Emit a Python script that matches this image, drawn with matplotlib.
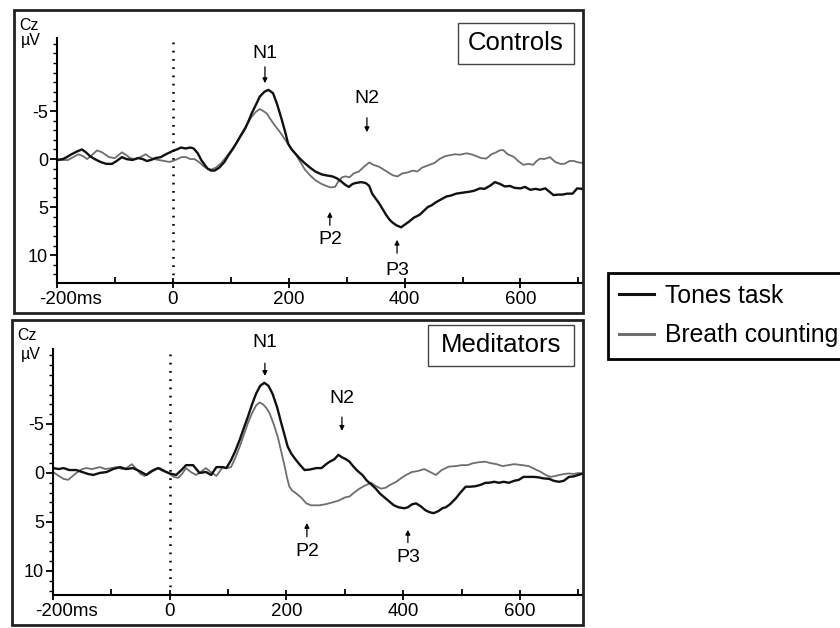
import matplotlib
matplotlib.use("Agg")
import matplotlib.pyplot as plt
from matplotlib.lines import Line2D
from matplotlib.patches import Rectangle
from matplotlib.transforms import ScaledTranslation

plt.rcParams['font.family'] = ['Liberation Sans', 'DejaVu Sans']

# Controls, tones task (black)
ctl_tones_t = [-200, -190, -183, -175, -165, -157, -150, -143, -135, -125, -115, -105, -97, -88, -80,
               -70, -60, -52, -45, -38, -30, -21, -12, -5, 0, 7, 14, 22, 30, 36, 43, 49, 55, 60, 66,
               72, 80, 89, 96, 104, 111, 118, 125, 131, 136, 143, 150, 158, 165, 173, 180, 188, 194,
               199, 205, 211, 220, 228, 237, 246, 257, 265, 275, 283, 290, 298, 304, 310, 315, 325,
               333, 339, 344, 350, 356, 362, 368, 374, 379, 386, 394, 401, 408, 416, 426, 433, 440,
               447, 454, 463, 472, 480, 489, 500, 512, 520, 530, 538, 547, 556, 565, 573, 582, 590,
               600, 608, 617, 626, 634, 643, 650, 657, 665, 672, 681, 690, 698, 706, 715]
ctl_tones_v = [0.1, 0.0, -0.2, -0.5, -0.8, -1.0, -0.7, -0.3, 0.0, 0.3, 0.5, 0.5, 0.2, -0.2, 0.0,
               0.1, -0.1, 0.0, 0.2, 0.1, -0.1, -0.2, -0.5, -0.7, -0.85, -1.0, -1.2, -1.1, -1.2, -1.1,
               -0.6, 0.1, 0.6, 1.0, 1.2, 1.2, 0.9, 0.3, -0.4, -1.1, -1.8, -2.5, -3.2, -4.0, -4.75,
               -5.6, -6.5, -7.0, -7.2, -6.85, -5.7, -4.1, -2.8, -1.6, -1.0, -0.6, 0.0, 0.45, 0.9,
               1.3, 1.6, 1.7, 1.8, 2.0, 2.3, 2.7, 2.9, 2.6, 2.5, 2.4, 2.5, 2.8, 3.6, 4.1, 4.6, 5.2,
               5.8, 6.3, 6.6, 6.9, 7.1, 6.8, 6.5, 6.1, 5.8, 5.4, 5.0, 4.8, 4.5, 4.2, 3.9, 3.8, 3.6,
               3.5, 3.4, 3.3, 3.05, 3.1, 2.8, 2.4, 2.6, 2.85, 2.8, 3.0, 3.05, 2.9, 3.2, 3.1, 3.2,
               3.05, 3.4, 3.75, 3.7, 3.7, 3.6, 3.6, 3.05, 3.1, 3.1]

# Controls, breath counting (grey)
ctl_breath_t = [-200, -190, -181, -172, -163, -155, -148, -140, -131, -122, -115, -110, -100, -94,
                -88, -80, -74, -65, -56, -47, -40, -33, -24, -15, -6, 0, 8, 15, 23, 30, 37, 45, 54,
                60, 66, 74, 83, 92, 101, 110, 118, 127, 136, 143, 150, 156, 162, 169, 176, 185, 194,
                202, 211, 220, 228, 237, 246, 257, 265, 272, 280, 286, 292, 298, 305, 312, 321, 330,
                339, 346, 356, 364, 372, 380, 388, 396, 405, 414, 422, 430, 443, 452, 460, 470, 478,
                487, 495, 507, 515, 524, 532, 541, 550, 558, 564, 570, 578, 588, 596, 605, 614, 622,
                628, 634, 641, 651, 660, 669, 676, 685, 692, 700, 708, 715]
ctl_breath_v = [0.1, 0.1, 0.1, -0.2, -0.5, -0.3, 0.0, -0.4, -0.9, -0.7, -0.4, -0.2, -0.1, -0.4,
                -0.7, -0.4, -0.1, 0.0, -0.2, -0.5, -0.2, 0.0, 0.1, 0.2, 0.3, 0.2, 0.0, -0.2, -0.2,
                0.0, 0.0, 0.3, 0.8, 1.0, 1.1, 0.9, 0.45, -0.2, -0.9, -1.7, -2.6, -3.5, -4.4, -4.9,
                -5.2, -5.0, -4.75, -4.1, -3.5, -2.8, -2.0, -1.3, -0.6, 0.3, 1.1, 1.7, 2.2, 2.6, 2.8,
                2.95, 2.9, 2.3, 1.9, 1.8, 1.9, 1.5, 1.3, 0.8, 0.35, 0.6, 0.8, 1.1, 1.4, 1.7, 1.8, 1.5,
                1.4, 1.2, 1.3, 0.9, 0.6, 0.4, 0.0, -0.3, -0.4, -0.5, -0.45, -0.6, -0.5, -0.3, -0.1,
                -0.05, -0.5, -0.7, -0.9, -0.95, -0.5, -0.25, 0.2, 0.6, 0.5, 0.6, 0.2, -0.05, 0.0,
                -0.2, 0.3, 0.5, 0.5, 0.2, 0.2, 0.35, 0.4, 0.45]

# Meditators, tones task (black)
med_tones_t = [-200, -190, -182, -172, -160, -150, -140, -131, -120, -108, -97, -85, -75, -63, -52,
               -40, -30, -20, -10, 0, 11, 20, 28, 40, 51, 62, 71, 80, 90, 97, 105, 112, 120, 127,
               134, 141, 148, 155, 162, 169, 176, 184, 191, 197, 202, 208, 214, 222, 231, 240, 251,
               260, 268, 274, 282, 289, 295, 302, 308, 314, 322, 330, 338, 346, 353, 360, 368, 376,
               384, 392, 402, 408, 415, 422, 430, 438, 445, 452, 460, 467, 473, 480, 490, 498, 507,
               515, 524, 533, 541, 547, 556, 564, 572, 581, 590, 598, 606, 616, 624, 632, 640, 650,
               658, 667, 675, 684, 692, 700, 708]
med_tones_v = [-0.5, -0.4, -0.5, -0.3, -0.3, -0.1, 0.1, 0.2, 0.0, -0.1, -0.4, -0.6, -0.4, -0.5,
               -0.2, 0.2, -0.2, -0.5, -0.2, 0.05, 0.2, -0.3, -0.8, -0.8, 0.0, -0.1, 0.2, -0.6, -0.6,
               -0.5, -1.3, -2.2, -3.4, -4.6, -5.75, -7.0, -8.1, -8.9, -9.2, -8.9, -8.1, -6.7, -5.1,
               -3.8, -2.7, -2.0, -1.5, -0.9, -0.3, -0.35, -0.5, -0.5, -0.9, -1.15, -1.4, -1.85,
               -1.6, -1.4, -1.15, -0.7, -0.2, 0.2, 0.8, 1.2, 1.6, 2.1, 2.5, 2.9, 3.3, 3.5, 3.6, 3.5,
               3.2, 3.1, 3.4, 3.8, 4.0, 4.1, 3.9, 3.6, 3.5, 3.2, 2.6, 2.0, 1.4, 1.4, 1.35, 1.2, 1.0,
               1.0, 0.9, 1.0, 0.9, 1.0, 0.8, 0.7, 0.4, 0.4, 0.4, 0.45, 0.55, 0.6, 0.8, 0.9, 0.8,
               0.4, 0.35, 0.2, 0.05]

# Meditators, breath counting (grey)
med_breath_t = [-200, -190, -182, -174, -166, -160, -150, -143, -133, -120, -110, -100, -91, -82,
                -74, -65, -57, -50, -43, -35, -26, -17, -8, 0, 7, 14, 21, 28, 36, 45, 53, 62, 70, 80,
                86, 91, 98, 105, 112, 120, 127, 134, 141, 148, 154, 160, 166, 171, 178, 185, 191,
                197, 201, 205, 210, 217, 225, 234, 242, 256, 266, 279, 290, 300, 308, 316, 325, 334,
                345, 352, 362, 370, 378, 388, 397, 405, 415, 425, 436, 446, 456, 466, 478, 490, 500,
                510, 520, 530, 541, 550, 560, 570, 580, 590, 604, 615, 627, 636, 644, 652, 661, 668,
                676, 684, 692, 700, 708]
med_breath_v = [-0.1, 0.3, 0.6, 0.7, 0.3, 0.0, -0.4, -0.5, -0.4, -0.6, -0.4, -0.5, -0.6, -0.4,
                -0.5, -0.9, -0.4, 0.1, 0.3, -0.1, -0.4, -0.5, -0.2, 0.1, 0.4, 0.5, 0.1, -0.5, -0.1,
                0.2, -0.1, -0.5, -0.1, 0.3, -0.2, -0.6, -0.5, -0.6, -1.5, -2.7, -3.9, -5.1, -6.1,
                -6.9, -7.2, -7.0, -6.6, -6.1, -5.0, -3.7, -2.2, -0.65, 0.5, 1.4, 1.8, 2.1, 2.5, 3.1,
                3.3, 3.3, 3.2, 3.0, 2.8, 2.5, 2.4, 2.0, 1.6, 1.3, 1.0, 1.3, 1.6, 1.5, 1.2, 0.9, 0.5,
                0.2, -0.1, -0.2, -0.4, -0.1, 0.2, -0.3, -0.65, -0.7, -0.8, -0.8, -1.0, -1.1, -1.15,
                -1.0, -0.9, -0.7, -0.8, -0.9, -0.8, -0.7, -0.35, -0.1, 0.2, 0.4, 0.3, 0.2, 0.1, 0.05,
                0.1, 0.0, 0.05]

# peak labels: (name, time, text level, arrow tail, arrow tip)
ctl_peaks = [('N1', 159, -11.0, -9.6, -7.9), ('N2', 335, -6.35, -4.3, -2.8),
             ('P2', 271, 8.4, 6.9, 5.5), ('P3', 387, 11.6, 9.8, 8.4)]
med_peaks = [('N1', 163, -13.3, -11.2, -9.9), ('N2', 295, -7.65, -5.7, -4.3),
             ('P2', 235, 8.0, 6.5, 5.1), ('P3', 408, 8.6, 7.1, 5.8)]

TONES_COLOR = '#111111'
BREATH_COLOR = '#6e6e6e'
W, H = 840, 628


def fx(px):
    return px / W


def fy(py):
    return 1 - py / H


def frame_box(fig, x0, y0, x1, y1, lw, color):
    fig.add_artist(Rectangle((fx(x0), fy(y1)), fx(x1 - x0), (y1 - y0) / H,
                             transform=fig.transFigure, fill=False, lw=lw, ec=color))


def draw_panel(fig, rect, ylim, t1, v1, t2, v2, peaks, title, title_box, cz_pos):
    ax = fig.add_axes(rect)
    ax.plot(t2, v2, color=BREATH_COLOR, lw=1.3)
    ax.plot(t1, v1, color=TONES_COLOR, lw=1.7)
    ax.axvline(0, color='black', lw=1.8, linestyle=(0, (0.7, 2.6)))
    ax.set_xlim(-200, 708)
    ax.set_ylim(*ylim)
    for s in ['top', 'right']:
        ax.spines[s].set_visible(False)
    for s in ['left', 'bottom']:
        ax.spines[s].set_linewidth(1.5)
    ax.set_xticks([-200, 0, 200, 400, 600])
    ax.set_xticklabels(['-200ms', '0', '200', '400', '600'], fontsize=13.5)
    ax.set_xticks(range(-100, 701, 200), minor=True)
    ax.set_yticks([-5, 0, 5, 10])
    ax.set_yticklabels(['-5', '0', '5', '10'], fontsize=13)
    ax.set_yticks(range(-12, 13), minor=True)
    ax.tick_params(axis='x', which='major', direction='inout', length=7, width=1.3, pad=2)
    ax.tick_params(axis='x', which='minor', direction='in', length=4, width=1.3)
    ax.tick_params(axis='y', which='major', direction='out', length=5, width=1.3, pad=1.5)
    ax.tick_params(axis='y', which='minor', direction='out', length=3, width=1)
    lab = ax.get_xticklabels()[0]
    lab.set_transform(lab.get_transform() + ScaledTranslation(0.14, 0, fig.dpi_scale_trans))

    for name, t, ytxt, ytail, ytip in peaks:
        ax.text(t, ytxt, name, ha='center', va='center', fontsize=14)
        ax.annotate('', xy=(t, ytip), xytext=(t, ytail),
                    arrowprops=dict(arrowstyle='-|>', lw=0.9, color='black',
                                    mutation_scale=7, shrinkA=0, shrinkB=0))

    x0, y0, x1, y1 = title_box
    frame_box(fig, x0, y0, x1, y1, 1.0, '#444444')
    fig.text(fx((x0 + x1) / 2), fy((y0 + y1) / 2), title, ha='center', va='center', fontsize=18.5)

    cx, cy, ux, uy = cz_pos
    fig.text(fx(cx), fy(cy), 'Cz', ha='left', va='center', fontsize=11.5)
    fig.text(fx(ux), fy(uy), 'µV', ha='left', va='center', fontsize=11.5)
    return ax


fig = plt.figure(figsize=(8.4, 6.28), dpi=100)

frame_box(fig, 14, 10, 583, 313, 2.0, '#222222')
frame_box(fig, 12, 320, 583, 625, 2.0, '#222222')

ax_top = draw_panel(fig, [fx(57), fy(283), fx(583 - 57), (283 - 38) / H], (12.9, -12.6),
                    ctl_tones_t, ctl_tones_v, ctl_breath_t, ctl_breath_v, ctl_peaks,
                    'Controls', (458, 23, 574, 64), (19, 25, 21, 41))
ax_bot = draw_panel(fig, [fx(53), fy(595), fx(583 - 53), (595 - 349) / H], (12.45, -12.65),
                    med_tones_t, med_tones_v, med_breath_t, med_breath_v, med_peaks,
                    'Meditators', (428, 325, 574, 366), (17, 336, 21, 355))

handles = [Line2D([], [], color=TONES_COLOR, lw=2.2), Line2D([], [], color=BREATH_COLOR, lw=2.2)]
leg = fig.legend(handles, ['Tones task', 'Breath counting'], loc='upper left',
                 bbox_to_anchor=(fx(608), fy(273)), borderaxespad=0, fontsize=17.8,
                 frameon=True, fancybox=False, edgecolor='black', framealpha=1,
                 borderpad=0.45, handlelength=1.4, handletextpad=0.45, labelspacing=0.62)
leg.get_frame().set_linewidth(2)

fig.savefig('out.png', dpi=100)
